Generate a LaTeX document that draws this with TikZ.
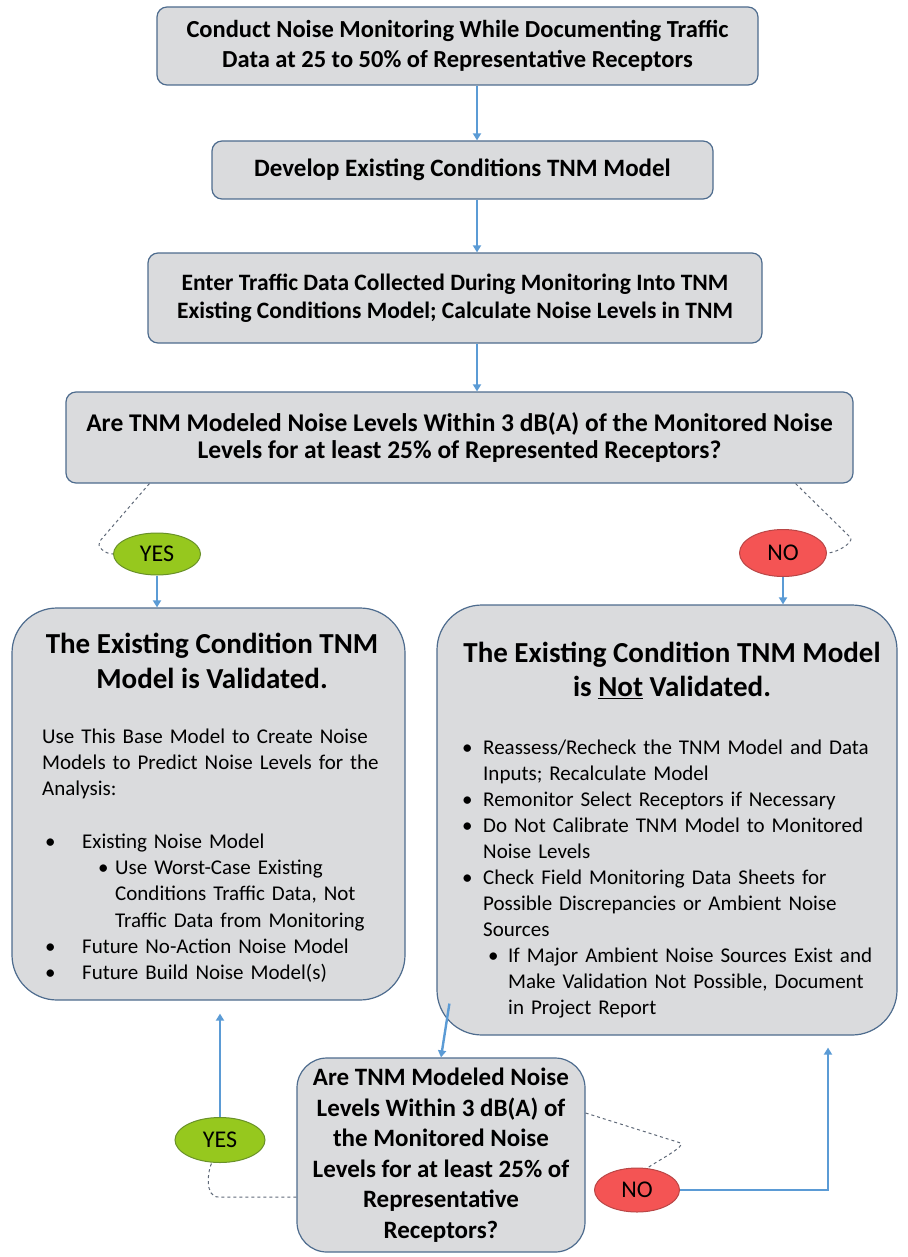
\documentclass[tikz,border=0pt]{standalone}
\usepackage{fontspec}
\setmainfont{Carlito}
\usetikzlibrary{arrows.meta,shapes.geometric}

\definecolor{boxfill}{RGB}{218,219,221}
\definecolor{boxline}{RGB}{78,108,142}
\definecolor{flowblue}{RGB}{91,155,213}
\definecolor{yesgreen}{RGB}{150,200,30}
\definecolor{yesline}{RGB}{105,145,40}
\definecolor{nored}{RGB}{244,84,84}
\definecolor{noline}{RGB}{185,70,70}
\definecolor{dashgray}{RGB}{95,105,120}

\begin{document}
\begin{tikzpicture}[x=1pt, y=-1pt,
    stepbox/.style = {draw=boxline, line width=1.2pt, fill=boxfill, rounded corners=10pt,
        align=center, inner sep=0pt, font=\bfseries\fontsize{24.5}{30}\selectfont},
    bigbox/.style = {draw=boxline, line width=1.2pt, fill=boxfill, rounded corners=45pt, inner sep=0pt},
    answer/.style = {ellipse, line width=1pt, inner sep=0pt, font=\fontsize{24}{28}\selectfont},
    flow/.style = {draw=flowblue, line width=2.4pt, -{Triangle[width=8pt, length=7pt]}},
    link/.style = {draw=dashgray, line width=1pt, dashed}]
    \useasboundingbox (0,0) rectangle (907,1257);

    % main steps
    \node [stepbox, minimum width=601pt, minimum height=78pt] (conduct) at (457.5,46)
        {Conduct Noise Monitoring While Documenting Traffic\\Data at 25 to 50\% of Representative Receptors};
    \node [stepbox, minimum width=501pt, minimum height=58pt, font=\bfseries\fontsize{25}{30}\selectfont] (develop) at (462.5,170)
        {Develop Existing Conditions TNM Model};
    \node [stepbox, minimum width=614pt, minimum height=90pt, font=\bfseries\fontsize{23.5}{28}\selectfont] (enter) at (455,298)
        {Enter Traffic Data Collected During Monitoring Into TNM\\Existing Conditions Model; Calculate Noise Levels in TNM};
    \node [stepbox, minimum width=787pt, minimum height=91pt, font=\bfseries\fontsize{25.5}{27}\selectfont] (question) at (459.5,437.5)
        {Are TNM Modeled Noise Levels Within 3 dB(A) of the Monitored Noise\\Levels for at least 25\% of Represented Receptors?};

    % answers
    \node [answer, fill=yesgreen, draw=yesline, minimum width=87pt, minimum height=42pt] (yes) at (157,554) {YES};
    \node [answer, fill=nored, draw=noline, minimum width=87pt, minimum height=47pt] (no) at (783,553) {NO};

    % validated
    \node [bigbox, minimum width=393pt, minimum height=392pt] (valid) at (208.5,804) {};
    \node [align=center, font=\bfseries\fontsize{29}{35}\selectfont] (validtitle) at (212,661)
        {The Existing Condition TNM\\Model is Validated.};
    \node [anchor=base west, align=left, text width=360pt, inner sep=0pt, font=\fontsize{21}{26.3}\selectfont] (validtext) at (42,743)
        {Use This Base Model to Create Noise\\
         Models to Predict Noise Levels for the\\
         Analysis:\\[26.3pt]
         \hspace*{3pt}\makebox[37pt][l]{\textbullet}Existing Noise Model\\
         \hspace*{56pt}\makebox[17pt][l]{\textbullet}Use Worst-Case Existing\\
         \hspace*{73pt}Conditions Traffic Data, Not\\
         \hspace*{73pt}Traffic Data from Monitoring\\
         \hspace*{3pt}\makebox[37pt][l]{\textbullet}Future No-Action Noise Model\\
         \hspace*{3pt}\makebox[37pt][l]{\textbullet}Future Build Noise Model(s)};

    % not validated
    \node [bigbox, minimum width=460pt, minimum height=430pt] (notvalid) at (667,820) {};
    \node [align=center, font=\bfseries\fontsize{29}{34}\selectfont] (notvalidtitle) at (672,670)
        {The Existing Condition TNM Model\\is \underline{Not} Validated.};
    \node [anchor=base west, align=left, text width=420pt, inner sep=0pt, font=\fontsize{21}{26}\selectfont] (notvalidtext) at (462,754)
        {\makebox[21pt][l]{\textbullet}Reassess/Recheck the TNM Model and Data\\
         \hspace*{21pt}Inputs; Recalculate Model\\
         \makebox[21pt][l]{\textbullet}Remonitor Select Receptors if Necessary\\
         \makebox[21pt][l]{\textbullet}Do Not Calibrate TNM Model to Monitored\\
         \hspace*{21pt}Noise Levels\\
         \makebox[21pt][l]{\textbullet}Check Field Monitoring Data Sheets for\\
         \hspace*{21pt}Possible Discrepancies or Ambient Noise\\
         \hspace*{21pt}Sources\\
         \hspace*{26pt}\makebox[20pt][l]{\textbullet}If Major Ambient Noise Sources Exist and\\
         \hspace*{46pt}Make Validation Not Possible, Document\\
         \hspace*{46pt}in Project Report};

    % second check
    \node [stepbox, rounded corners=30pt, minimum width=288pt, minimum height=194pt, font=\bfseries\fontsize{25}{30.5}\selectfont] (recheck) at (441,1155)
        {Are TNM Modeled Noise\\Levels Within 3 dB(A) of\\the Monitored Noise\\Levels for at least 25\% of\\Representative\\Receptors?};
    \node [answer, fill=yesgreen, draw=yesline, minimum width=90pt, minimum height=45pt] (yes2) at (220,1140) {YES};
    \node [answer, fill=nored, draw=noline, minimum width=85pt, minimum height=44pt] (no2) at (637,1190) {NO};

    % connections between the steps
    \coordinate (spine) at (477,0);
    \draw [flow] (conduct.south -| spine) -- (develop.north -| spine);
    \draw [flow] (develop.south -| spine) -- (enter.north -| spine);
    \draw [flow] (enter.south -| spine) -- (question.north -| spine);

    % answers of the first check
    \draw [link] ([xshift=84pt]question.south west) -- ++(-50,58) .. controls +(-3,5) and +(-8,0) .. (yes.west);
    \draw [link] ([xshift=-58pt]question.south east) -- ++(55,54) .. controls +(3,5) and +(10,0) .. (no.east);
    \draw [flow] (yes.south) -- (valid.north -| yes);
    \draw [flow] (no.south) -- (notvalid.north -| no);

    % from the not validated model to the second check
    \draw [flow] (notvalid.south west) ++(13,-32) -- (recheck.north);

    % answers of the second check
    \draw [link] ([yshift=-42pt]recheck.west) -- ++(-78,0) .. controls +(-14,0) and +(-4,8) .. (yes2.250);
    \draw [link] ([yshift=42pt]recheck.east) -- ++(95,30) .. controls +(6,3) and +(8,-6) .. (no2.65);
    \draw [flow, shorten >=13pt] (yes2.north) -- (yes2 |- valid.south);
    \coordinate (noback) at ([xshift=161pt]notvalid.south);
    \draw [flow, shorten >=12pt] (no2.east) -| (noback);
\end{tikzpicture}
\end{document}
